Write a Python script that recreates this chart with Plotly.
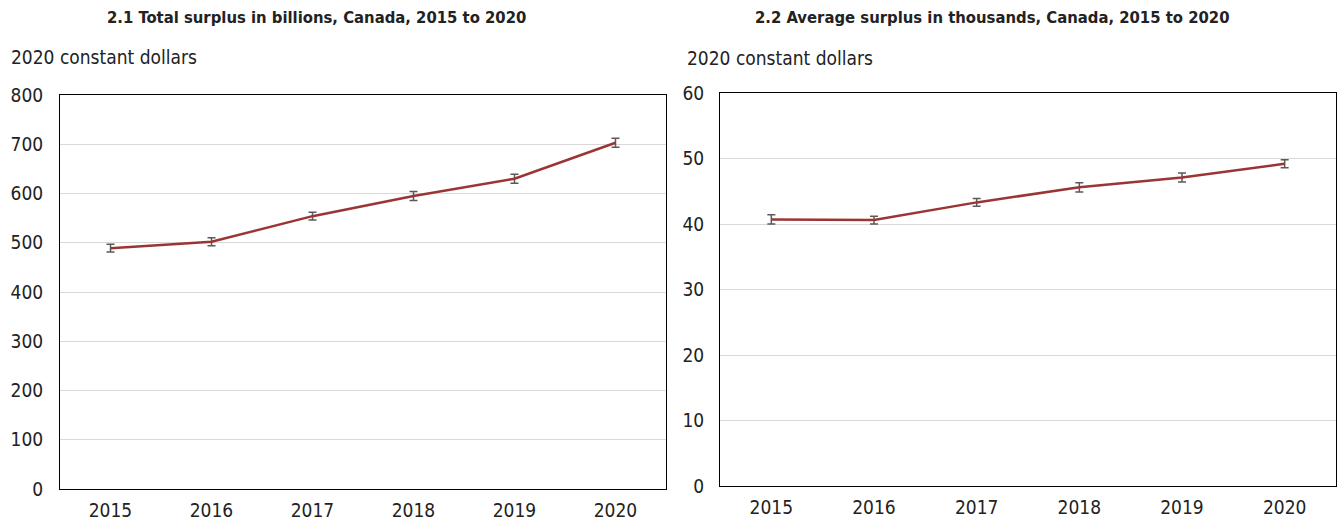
import plotly.graph_objects as go

years = ["2015", "2016", "2017", "2018", "2019", "2020"]
total_surplus = [489, 502, 554, 595, 630, 703]
total_err = [8, 8, 8, 9, 9, 9]
avg_surplus = [40.7, 40.6, 43.3, 45.6, 47.1, 49.2]
avg_err = [0.7, 0.6, 0.6, 0.7, 0.7, 0.6]

title_left = "2.1 Total surplus in billions, Canada, 2015 to 2020"
title_right = "2.2 Average surplus in thousands, Canada, 2015 to 2020"
unit_label = "2020 constant dollars"

FONT = "Liberation Sans Narrow, DejaVu Sans Condensed, Arial Narrow, sans-serif"
LINE_COLOR = "#9b3535"
ERR_COLOR = "#5a5a5a"
TXT = "#222222"
W, H = 1338, 523

fig = go.Figure()
fig.add_trace(go.Scatter(
    x=years, y=total_surplus, mode="lines", xaxis="x", yaxis="y",
    line=dict(color=LINE_COLOR, width=2.5),
    error_y=dict(type="data", array=total_err, color=ERR_COLOR, thickness=1.5, width=4),
    showlegend=False))
fig.add_trace(go.Scatter(
    x=years, y=avg_surplus, mode="lines", xaxis="x2", yaxis="y2",
    line=dict(color=LINE_COLOR, width=2.5),
    error_y=dict(type="data", array=avg_err, color=ERR_COLOR, thickness=1.5, width=4),
    showlegend=False))

def px_x(p):
    return p / W

def px_y(p):
    return 1 - p / H

axis_common = dict(showline=True, linecolor="black", linewidth=1, mirror=True,
                   automargin=False, ticks="",
                   tickfont=dict(family=FONT, size=19, color=TXT))

fig.update_layout(
    width=W, height=H,
    margin=dict(l=0, r=0, t=0, b=0, pad=0, autoexpand=False),
    plot_bgcolor="white", paper_bgcolor="white",
    font=dict(family=FONT, color=TXT),
    xaxis=dict(domain=[px_x(60), px_x(666)], anchor="y", type="category",
               range=[-0.5, 5.5], showgrid=False, ticklabelstandoff=4,
               **axis_common),
    yaxis=dict(domain=[px_y(489), px_y(95)], anchor="x", range=[0, 800], dtick=100,
               showgrid=True, gridcolor="#d9d9d9", gridwidth=1, zeroline=False,
               ticklabelstandoff=12, **axis_common),
    xaxis2=dict(domain=[px_x(720), px_x(1336)], anchor="y2", type="category",
                range=[-0.5, 5.5], showgrid=False, ticklabelstandoff=4,
                **axis_common),
    yaxis2=dict(domain=[px_y(486), px_y(93)], anchor="x2", range=[0, 60], dtick=10,
                showgrid=True, gridcolor="#d9d9d9", gridwidth=1, zeroline=False,
                ticklabelstandoff=11, **axis_common),
    annotations=[
        dict(text="<b>" + title_left + "</b>", x=px_x(316), y=px_y(17), xref="paper", yref="paper",
             xanchor="center", yanchor="middle", showarrow=False,
             font=dict(family=FONT, size=16.5, color=TXT)),
        dict(text="<b>" + title_right + "</b>", x=px_x(992), y=px_y(17), xref="paper", yref="paper",
             xanchor="center", yanchor="middle", showarrow=False,
             font=dict(family=FONT, size=16.5, color=TXT)),
        dict(text=unit_label, x=px_x(9), y=px_y(57), xref="paper", yref="paper",
             xanchor="left", yanchor="middle", showarrow=False,
             font=dict(family=FONT, size=19, color=TXT)),
        dict(text=unit_label, x=px_x(685), y=px_y(58), xref="paper", yref="paper",
             xanchor="left", yanchor="middle", showarrow=False,
             font=dict(family=FONT, size=19, color=TXT)),
    ],
)

fig.write_html("out.html")
